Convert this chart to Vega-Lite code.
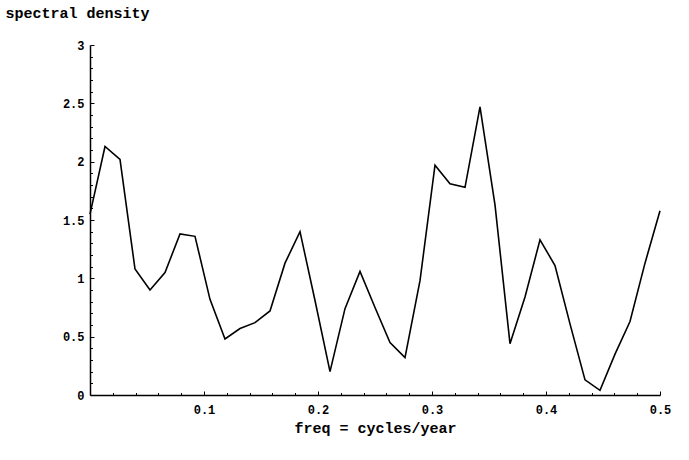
{
  "$schema": "https://vega.github.io/schema/vega-lite/v6.json",
  "width": 570,
  "height": 350,
  "autosize": {"type": "none"},
  "padding": {"left": 90, "top": 45, "right": 29, "bottom": 65},
  "background": "white",
  "config": {"view": {"stroke": null}},
  "data": {"values": [
    {"freq": 0.0, "density": 1.55},
    {"freq": 0.01316, "density": 2.13},
    {"freq": 0.02632, "density": 2.02},
    {"freq": 0.03947, "density": 1.08},
    {"freq": 0.05263, "density": 0.9},
    {"freq": 0.06579, "density": 1.05},
    {"freq": 0.07895, "density": 1.38},
    {"freq": 0.09211, "density": 1.36},
    {"freq": 0.10526, "density": 0.82},
    {"freq": 0.11842, "density": 0.48},
    {"freq": 0.13158, "density": 0.57},
    {"freq": 0.14474, "density": 0.62},
    {"freq": 0.15789, "density": 0.72},
    {"freq": 0.17105, "density": 1.13},
    {"freq": 0.18421, "density": 1.4},
    {"freq": 0.19737, "density": 0.81},
    {"freq": 0.21053, "density": 0.2},
    {"freq": 0.22368, "density": 0.74},
    {"freq": 0.23684, "density": 1.06},
    {"freq": 0.25, "density": 0.75},
    {"freq": 0.26316, "density": 0.45},
    {"freq": 0.27632, "density": 0.32},
    {"freq": 0.28947, "density": 0.98},
    {"freq": 0.30263, "density": 1.97},
    {"freq": 0.31579, "density": 1.81},
    {"freq": 0.32895, "density": 1.78},
    {"freq": 0.34211, "density": 2.47},
    {"freq": 0.35526, "density": 1.63},
    {"freq": 0.36842, "density": 0.44},
    {"freq": 0.38158, "density": 0.84},
    {"freq": 0.39474, "density": 1.33},
    {"freq": 0.40789, "density": 1.11},
    {"freq": 0.42105, "density": 0.61},
    {"freq": 0.43421, "density": 0.13},
    {"freq": 0.44737, "density": 0.04},
    {"freq": 0.46053, "density": 0.35},
    {"freq": 0.47368, "density": 0.63},
    {"freq": 0.48684, "density": 1.13},
    {"freq": 0.5, "density": 1.58}
  ]},
  "mark": {"type": "line", "color": "black", "strokeWidth": 1.6, "clip": false},
  "encoding": {
    "x": {
      "field": "freq", "type": "quantitative",
      "scale": {"domain": [0, 0.5], "nice": false, "zero": false},
      "axis": {
        "title": "freq = cycles/year",
        "titleFont": "Liberation Mono", "titleFontSize": 15, "titleFontWeight": "bold", "titleColor": "black",
        "titleBaseline": "middle", "titleY": 32,
        "values": [0.02, 0.04, 0.06, 0.08, 0.1, 0.12, 0.14, 0.16, 0.18, 0.2, 0.22, 0.24, 0.26, 0.28, 0.3, 0.32, 0.34, 0.36, 0.38, 0.4, 0.42, 0.44, 0.46, 0.48, 0.5],
        "labelExpr": "abs(datum.value*10 - round(datum.value*10)) < 0.001 ? format(datum.value, '.1f') : ''",
        "labelFont": "Liberation Mono", "labelFontSize": 12, "labelFontWeight": "bold", "labelColor": "black",
        "labelFlush": false, "labelOverlap": false, "labelPadding": 13,
        "grid": false,
        "domainColor": "black", "domainWidth": 1.5,
        "tickColor": "black", "tickWidth": 1,
        "tickSize": {"condition": {"test": "abs(datum.value*10 - round(datum.value*10)) < 0.001", "value": -4}, "value": -2.5}
      }
    },
    "y": {
      "field": "density", "type": "quantitative",
      "scale": {"domain": [0, 3], "nice": false},
      "axis": {
        "title": "spectral density",
        "titleFont": "Liberation Mono", "titleFontSize": 15, "titleFontWeight": "bold", "titleColor": "black",
        "titleAngle": 0, "titleAlign": "left", "titleBaseline": "middle",
        "titleX": -85, "titleY": -33,
        "values": [0, 0.1, 0.2, 0.3, 0.4, 0.5, 0.6, 0.7, 0.8, 0.9, 1, 1.1, 1.2, 1.3, 1.4, 1.5, 1.6, 1.7, 1.8, 1.9, 2, 2.1, 2.2, 2.3, 2.4, 2.5, 2.6, 2.7, 2.8, 2.9, 3],
        "labelExpr": "abs(datum.value*2 - round(datum.value*2)) < 0.001 ? '' + round(datum.value*10)/10 : ''",
        "labelFont": "Liberation Mono", "labelFontSize": 12, "labelFontWeight": "bold", "labelColor": "black",
        "labelFlush": false, "labelOverlap": false, "labelPadding": 10,
        "grid": false,
        "domainColor": "black", "domainWidth": 1.5,
        "tickColor": "black", "tickWidth": 1,
        "tickSize": {"condition": {"test": "abs(datum.value*2 - round(datum.value*2)) < 0.001", "value": -4}, "value": -2.5}
      }
    }
  }
}
